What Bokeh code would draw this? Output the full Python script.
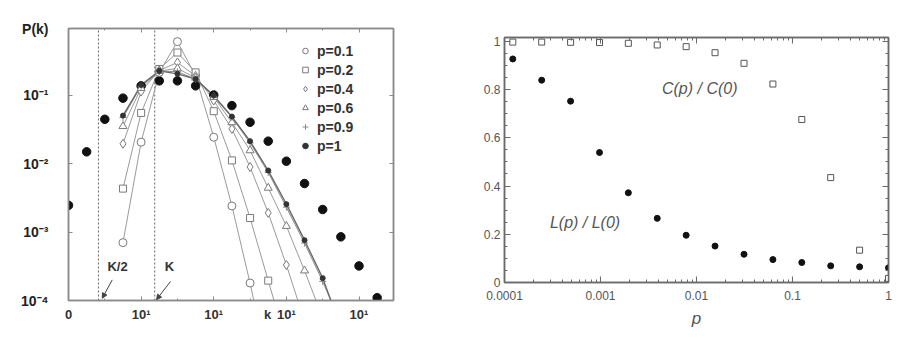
from bokeh.plotting import figure
from bokeh.models import (Range1d, FixedTicker, LinearAxis, LogAxis, Label,
                          Legend, LegendItem, Arrow, NormalHead)
from bokeh.layouts import row
from bokeh.embed import file_html
from bokeh.resources import INLINE

FONT = "Liberation Sans"

# ---------------- left panel data: degree distribution P(k) ----------------
k_rand = [0, 1, 2, 3, 4, 5, 6, 7, 8, 9, 10, 11, 12, 13, 14, 15, 16, 17]
P_rand = [2.45e-3, 1.48e-2, 4.42e-2, 9.0e-2, 0.136, 0.161, 0.161, 0.136, 0.100,
          0.070, 0.040, 0.0212, 0.0108, 5.1e-3, 2.13e-3, 8.5e-4, 3.2e-4, 1.1e-4]

k_p01 = [3, 4, 5, 6, 7, 8, 9, 10, 11]
P_p01 = [7.0e-4, 2.05e-2, 0.214, 0.601, 0.19, 2.42e-2, 2.4e-3, 1.8e-4, 1.0e-5]

k_p02 = [3, 4, 5, 6, 7, 8, 9, 10, 11, 12]
P_p02 = [4.3e-3, 5.47e-2, 0.24, 0.417, 0.214, 5.8e-2, 1.11e-2, 1.6e-3, 1.95e-4, 2.4e-5]

k_p04 = [3, 4, 5, 6, 7, 8, 9, 10, 11, 12, 13]
P_p04 = [1.94e-2, 0.112, 0.229, 0.298, 0.19, 8.3e-2, 3.2e-2, 8.9e-3, 1.9e-3, 3.3e-4, 5.0e-5]

k_p06 = [3, 4, 5, 6, 7, 8, 9, 10, 11, 12, 13, 14]
P_p06 = [3.5e-2, 0.126, 0.224, 0.244, 0.178, 9.3e-2, 3.98e-2, 1.55e-2, 4.4e-3,
         1.22e-3, 2.73e-4, 5.6e-5]

k_p09 = [3, 4, 5, 6, 7, 8, 9, 10, 11, 12, 13, 14, 15]
P_p09 = [4.7e-2, 0.135, 0.224, 0.219, 0.17, 9.5e-2, 4.7e-2, 2.0e-2, 7.4e-3, 2.3e-3,
         6.9e-4, 1.9e-4, 4.5e-5]

k_p1 = [3, 4, 5, 6, 7, 8, 9, 10, 11, 12, 13, 14, 15]
P_p1 = [5.0e-2, 0.14, 0.225, 0.204, 0.171, 9.8e-2, 4.84e-2, 2.12e-2, 7.9e-3, 2.55e-3,
        7.6e-4, 2.12e-4, 4.1e-5]

series_labels = ["p=0.1", "p=0.2", "p=0.4", "p=0.6", "p=0.9", "p=1"]

left_xticks = [0, 4, 8, 12, 16]
left_xtick_labels = ["0", "10\u00b9", "10\u00b9", "10\u00b9", "10\u00b9"]
left_xminor = [2, 6, 10, 14]
k_title_pos = 10.96            # "k" axis title sits among the bottom tick labels
left_yticks = [1e-4, 1e-3, 1e-2, 1e-1]
left_ytick_labels = ["10\u207b\u2074", "10\u207b\u00b3", "10\u207b\u00b2", "10\u207b\u00b9"]
Pk_title_pos = 0.93            # "P(k)" axis title sits at the top of the y labels

K_half = 1.65
K_full = 4.75

# ---------------- right panel data: C(p)/C(0), L(p)/L(0) ----------------
p_vals = [0.000122, 0.000244, 0.000488, 0.000977, 0.00195, 0.0039, 0.0078,
          0.0156, 0.03125, 0.0625, 0.125, 0.25, 0.5, 1.0]
C_ratio = [0.997, 0.997, 0.996, 0.995, 0.992, 0.985, 0.978, 0.953, 0.909, 0.823,
           0.676, 0.435, 0.134, 0.017]
L_ratio = [0.927, 0.839, 0.752, 0.539, 0.372, 0.266, 0.196, 0.151, 0.117, 0.095,
           0.083, 0.069, 0.065, 0.061]

right_xticks = [1e-4, 1e-3, 1e-2, 1e-1, 1.0]
right_xtick_labels = ["0.0001", "0.001", "0.01", "0.1", "1"]
right_yticks = [0, 0.2, 0.4, 0.6, 0.8, 1.0]
right_ytick_labels = ["0", "0.2", "0.4", "0.6", "0.8", "1"]


def style_axis(ax, color, label_color, font_size, bold, standoff, tick_in=4, minor_in=2):
    ax.axis_line_color = color
    ax.axis_line_width = 1.5
    ax.major_tick_line_color = color
    ax.minor_tick_line_color = color
    ax.major_tick_in = tick_in
    ax.major_tick_out = 0
    ax.minor_tick_in = minor_in
    ax.minor_tick_out = 0
    ax.major_label_text_font = FONT
    ax.major_label_text_font_size = font_size
    ax.major_label_text_color = label_color
    ax.major_label_text_font_style = "bold" if bold else "normal"
    ax.major_label_standoff = standoff


def no_labels(ax):
    ax.major_label_text_font_size = "0px"
    ax.major_label_text_color = None
    ax.major_label_standoff = 0


def make_fig(fw, fh, left, right, top, bottom, xr, yr, outline, **kw):
    f = figure(frame_width=fw, frame_height=fh, x_range=xr, y_range=yr,
               min_border_left=left, min_border_right=right, min_border_top=top,
               min_border_bottom=bottom, output_backend="svg",
               toolbar_location=None, **kw)
    try:
        f.frame_align = False
    except Exception:
        pass
    f.grid.visible = False
    f.outline_line_color = outline
    f.outline_line_width = 1.5
    f.background_fill_color = "white"
    f.border_fill_color = "white"
    return f


# ======================= LEFT FIGURE =======================
AX_L = "#8a8a8a"
p1 = make_fig(325, 272, 68, 47, 28, 53, Range1d(0, 17.9), Range1d(1e-4, 0.935),
              AX_L, y_axis_type="log")

# bottom: ticks-only axis next to the frame, then a labels-only axis
p1.xaxis.ticker = FixedTicker(ticks=left_xticks, minor_ticks=left_xminor)
style_axis(p1.xaxis[0], AX_L, "#333333", "13px", True, 0)
no_labels(p1.xaxis[0])
lab_ticks = left_xticks + [k_title_pos]
lab_text = left_xtick_labels + ["k"]
bot_lab = LinearAxis(ticker=FixedTicker(ticks=lab_ticks, minor_ticks=[]))
style_axis(bot_lab, AX_L, "#333333", "13px", True, 6, tick_in=0, minor_in=0)
bot_lab.axis_line_color = None
bot_lab.major_tick_line_color = None
bot_lab.minor_tick_line_color = None
bot_lab.major_label_overrides = dict(zip(lab_ticks, lab_text))
p1.add_layout(bot_lab, "below")

# left: decade labels plus the "P(k)" title at the top
y_lab_ticks = left_yticks + [Pk_title_pos]
y_lab_text = left_ytick_labels + ["P(k)"]
p1.yaxis.ticker = FixedTicker(ticks=y_lab_ticks, minor_ticks=[])
p1.yaxis.major_label_overrides = dict(zip(y_lab_ticks, y_lab_text))
style_axis(p1.yaxis[0], AX_L, "#222222", "14px", True, 20)

top1 = LinearAxis(ticker=FixedTicker(ticks=left_xticks, minor_ticks=left_xminor))
style_axis(top1, AX_L, "#333333", "0px", False, 0)
no_labels(top1)
p1.add_layout(top1, "above")
right1 = LogAxis(ticker=FixedTicker(ticks=left_yticks, minor_ticks=[]))
style_axis(right1, AX_L, "#333333", "0px", False, 0)
no_labels(right1)
p1.add_layout(right1, "right")

# dashed lines K/2 and K
for xv in (K_half, K_full):
    p1.segment(x0=[xv], y0=[1e-4], x1=[xv], y1=[0.935], line_color="#666666",
               line_width=1, line_dash="2 2")

LINE_C = "#9a9a9a"
MK_C = "#7a7a7a"
series = [
    (k_p01, P_p01, "circle", 8, None, MK_C, LINE_C, 1),
    (k_p02, P_p02, "square", 7, None, MK_C, LINE_C, 1),
    (k_p04, P_p04, "diamond", 9, None, MK_C, LINE_C, 1),
    (k_p06, P_p06, "triangle", 8, None, MK_C, LINE_C, 1),
    (k_p09, P_p09, "cross", 7, None, "#8a8a8a", "#8a8a8a", 1),
    (k_p1, P_p1, "circle", 5, "#333333", "#333333", "#666666", 1.3),
]
for ks, ps, mk, sz, fc, lc, lnc, lw in series:
    p1.line(ks, ps, line_color=lnc, line_width=lw)

p1.scatter(k_rand, P_rand, marker="circle", size=8.5, fill_color="#111111",
           line_color="#111111")

legend_items = []
for (ks, ps, mk, sz, fc, lc, lnc, lw), lab in zip(series, series_labels):
    r = p1.scatter(ks, ps, marker=mk, size=sz, fill_color=fc if fc else "white",
                   fill_alpha=1.0, line_color=lc, line_width=1)
    legend_items.append(LegendItem(label=lab, renderers=[r]))

leg = Legend(items=legend_items, location=(230, 146), orientation="vertical",
             label_text_font=FONT, label_text_font_size="14px",
             label_text_font_style="bold", label_text_color="#333333",
             glyph_width=14, glyph_height=17, label_height=17, spacing=2,
             label_standoff=5, padding=0, margin=0, border_line_color=None,
             background_fill_alpha=0)
p1.add_layout(leg, "center")

p1.add_layout(Label(x=2.70, y=3.1e-4, text="K/2", text_align="center",
                    text_baseline="middle", text_font=FONT, text_font_size="13px",
                    text_font_style="bold", text_color="#333333"))
p1.add_layout(Label(x=5.56, y=3.1e-4, text="K", text_align="center",
                    text_baseline="middle", text_font=FONT, text_font_size="13px",
                    text_font_style="bold", text_color="#333333"))
p1.add_layout(Arrow(end=NormalHead(size=5, fill_color="#444444", line_color="#444444"),
                    x_start=2.41, y_start=2.0e-4, x_end=1.86, y_end=1.08e-4,
                    line_color="#444444", line_width=1))
p1.add_layout(Arrow(end=NormalHead(size=5, fill_color="#444444", line_color="#444444"),
                    x_start=5.62, y_start=1.9e-4, x_end=4.85, y_end=1.03e-4,
                    line_color="#444444", line_width=1))

# ======================= RIGHT FIGURE =======================
AX_R = "#6a6a6a"
p2 = make_fig(384, 245, 64, 31, 37, 71, Range1d(1e-4, 1.0), Range1d(0, 1.016),
              AX_R, x_axis_type="log")

minor_log = [m * 10.0 ** e for e in (-4, -3, -2, -1) for m in range(2, 10)]
y_minor = [i * 0.05 for i in range(0, 21)]
p2.xaxis.ticker = FixedTicker(ticks=right_xticks, minor_ticks=minor_log)
p2.yaxis.ticker = FixedTicker(ticks=right_yticks, minor_ticks=y_minor)
p2.xaxis.major_label_overrides = dict(zip(right_xticks, right_xtick_labels))
p2.yaxis.major_label_overrides = dict(zip(right_yticks, right_ytick_labels))
style_axis(p2.xaxis[0], AX_R, "#555555", "12px", False, 8, tick_in=6, minor_in=3)
style_axis(p2.yaxis[0], AX_R, "#555555", "12px", False, 4, tick_in=6, minor_in=3)
p2.xaxis.axis_label = "p"
p2.xaxis.axis_label_text_font = FONT
p2.xaxis.axis_label_text_font_size = "17px"
p2.xaxis.axis_label_text_font_style = "italic"
p2.xaxis.axis_label_text_color = "#555555"
p2.xaxis.axis_label_standoff = 6

top2 = LogAxis(ticker=FixedTicker(ticks=right_xticks, minor_ticks=minor_log))
style_axis(top2, AX_R, "#555555", "0px", False, 0, tick_in=6, minor_in=3)
no_labels(top2)
p2.add_layout(top2, "above")
right2 = LinearAxis(ticker=FixedTicker(ticks=right_yticks, minor_ticks=y_minor))
style_axis(right2, AX_R, "#555555", "0px", False, 0, tick_in=6, minor_in=3)
no_labels(right2)
p2.add_layout(right2, "right")

p2.scatter(p_vals, C_ratio, marker="square", size=6, fill_color="white",
           line_color="#555555", line_width=1)
p2.scatter(p_vals, L_ratio, marker="circle", size=6, fill_color="#111111",
           line_color="#111111")

p2.add_layout(Label(x=0.0108, y=0.806, text="C(p) / C(0)", text_align="center",
                    text_baseline="middle", text_font=FONT, text_font_size="16px",
                    text_font_style="italic", text_color="#555555"))
p2.add_layout(Label(x=0.00069, y=0.249, text="L(p) / L(0)", text_align="center",
                    text_baseline="middle", text_font=FONT, text_font_size="16px",
                    text_font_style="italic", text_color="#555555"))

layout = row(p1, p2)
open("out.html", "w").write(file_html(layout, INLINE))
